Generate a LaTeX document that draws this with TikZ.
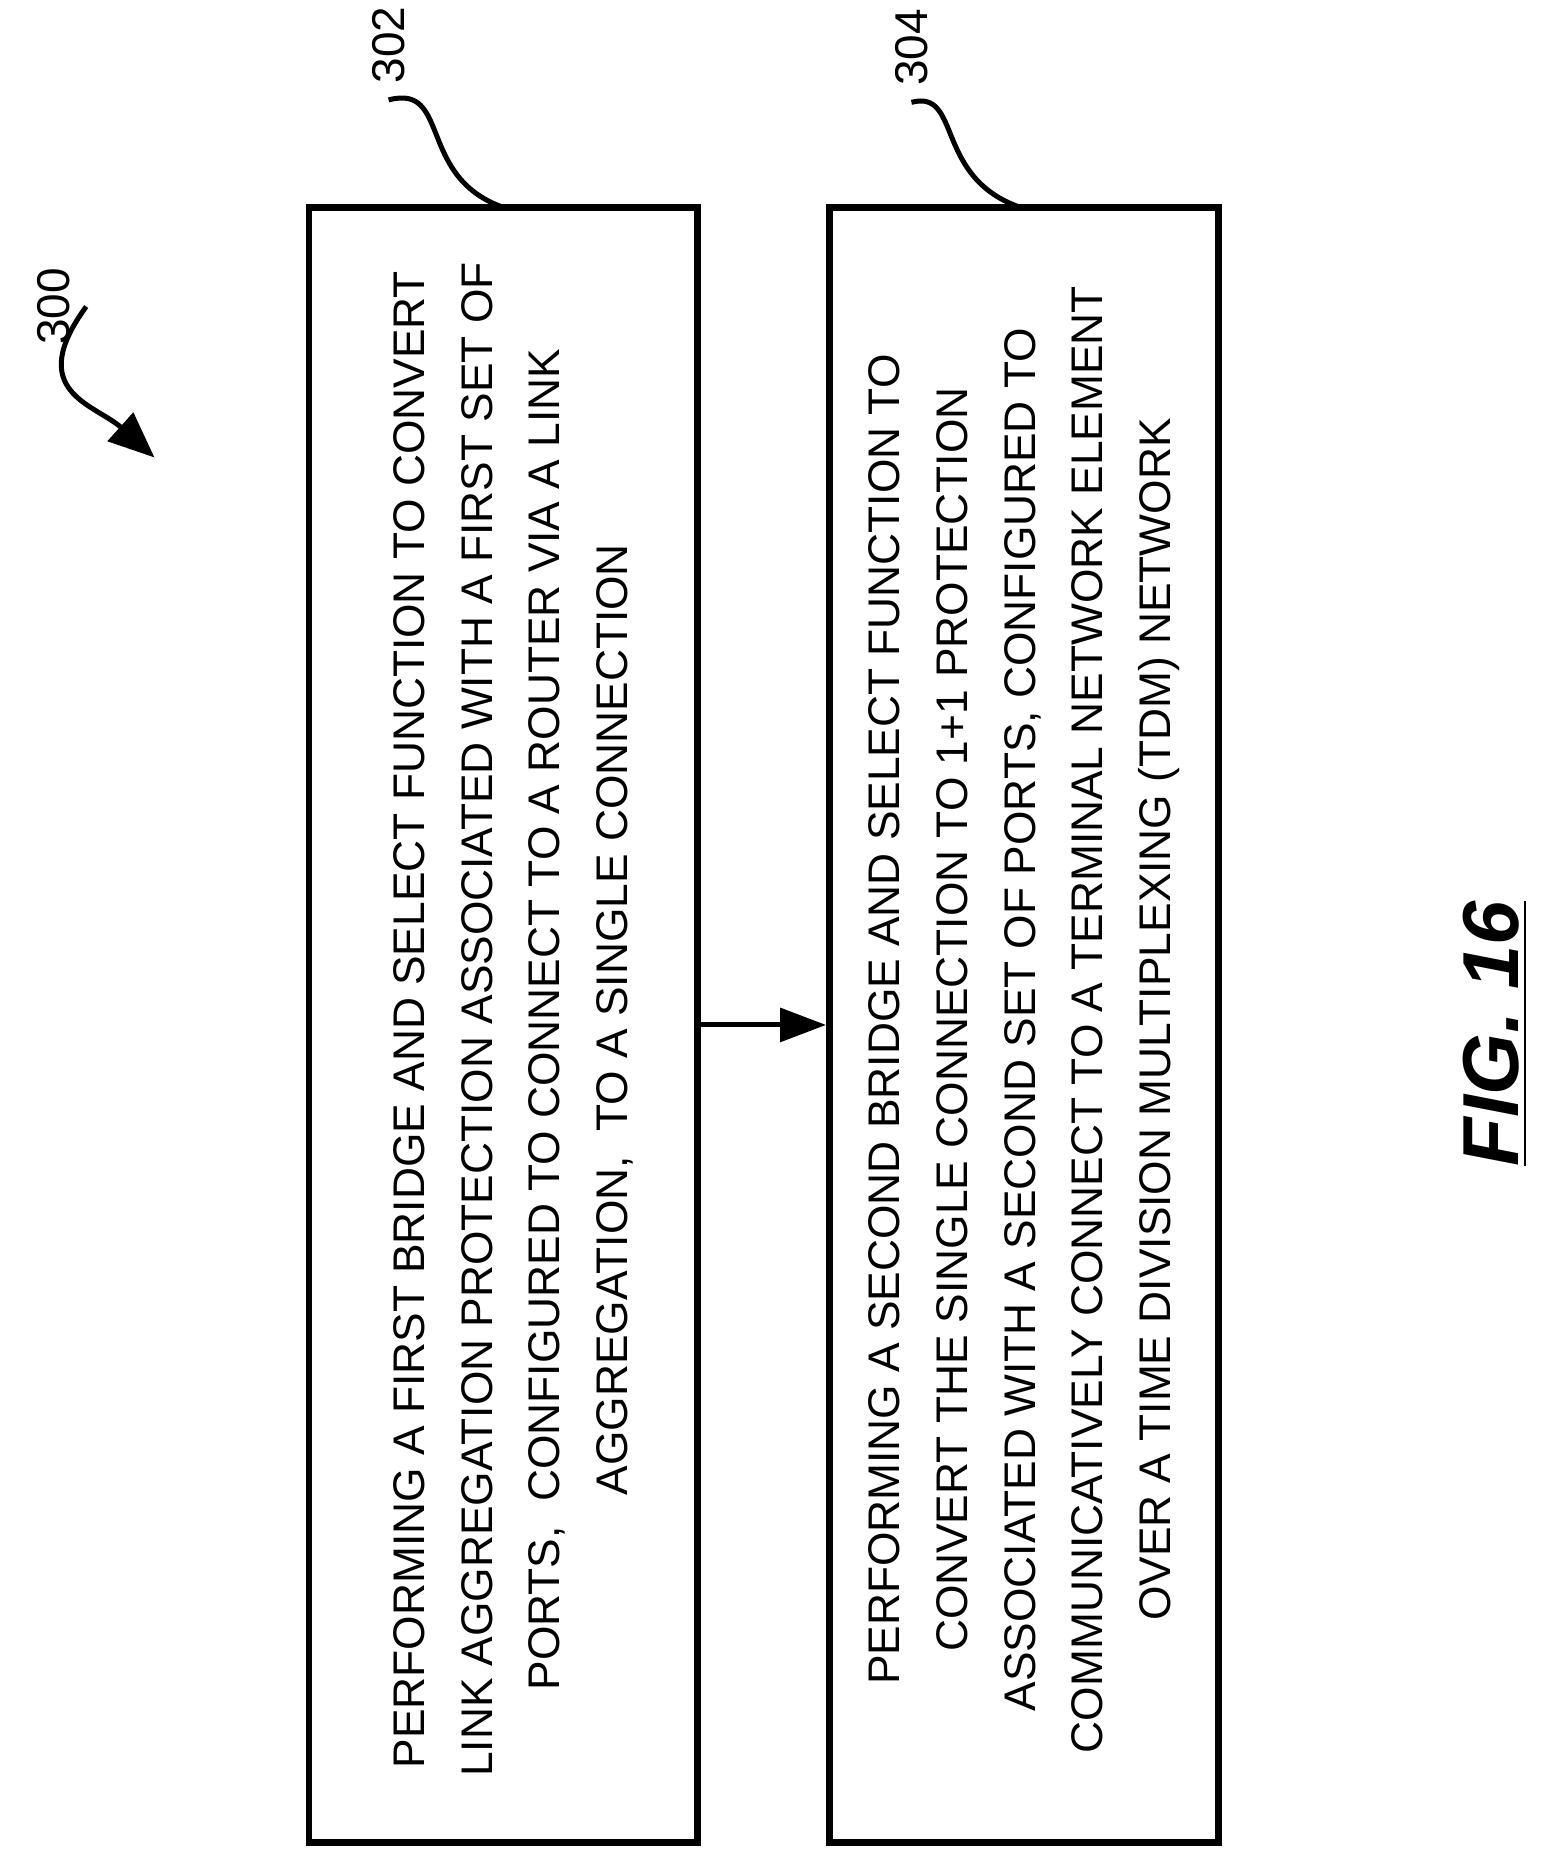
\documentclass[tikz,border=0pt]{standalone}
\usepackage{fontspec}
\setmainfont{Liberation Sans}
\usetikzlibrary{arrows.meta}
\begin{document}
\begin{tikzpicture}[x=0.01cm,y=-0.01cm,line width=1.2pt,
  box/.style={draw,line width=1.6pt,minimum width=13.75cm,minimum height=3.27cm,rotate=90,inner sep=0pt},
  txt/.style={rotate=90,align=center,font=\fontsize{10.6}{16.2}\selectfont},
  lbl/.style={rotate=90,font=\fontsize{11}{13}\selectfont}]
\useasboundingbox (0,0) rectangle (1310,1561);
\node[box] (b1) at (423.5,862.5) {};
\node[box] (b2) at (861.5,862.5) {};
\node[txt] (t1) at (432,858) {PERFORMING A FIRST BRIDGE AND SELECT FUNCTION TO CONVERT\\LINK AGGREGATION PROTECTION ASSOCIATED WITH A FIRST SET OF\\PORTS,\ \ CONFIGURED TO CONNECT TO A ROUTER VIA A LINK\\AGGREGATION,\ \ TO A SINGLE CONNECTION};
\node[txt] (t2) at (862,858) {PERFORMING A SECOND BRIDGE AND SELECT FUNCTION TO\\CONVERT THE SINGLE CONNECTION TO 1+1 PROTECTION\\ASSOCIATED WITH A SECOND SET OF PORTS, CONFIGURED TO\\COMMUNICATIVELY CONNECT TO A TERMINAL NETWORK ELEMENT\\OVER A TIME DIVISION MULTIPLEXING (TDM) NETWORK};
\draw[-{Triangle[length=11pt,width=8pt]}] (b1.south) -- (b2.north);
\node[lbl] (l302) at (327,38) {302};
\node[lbl] (l304) at (767,40) {304};
\node[lbl] (l300) at (45,258) {300};
\coordinate (c302) at (425,175);
\coordinate (c304) at (860,175);
\draw (c302) .. controls (350,150) and (380,70) .. (l302.west);
\draw (c304) .. controls (785,150) and (810,75) .. (l304.west);
\coordinate (a300) at (130,385);
\draw[-{Triangle[length=11pt,width=9pt]}] (l300.south) .. controls (20,330) and (80,340) .. (a300);
\node[rotate=90,font=\fontsize{19}{22}\selectfont\bfseries\itshape] (fig) at (1258,870) {\underline{FIG. 16}};
\end{tikzpicture}
\end{document}
